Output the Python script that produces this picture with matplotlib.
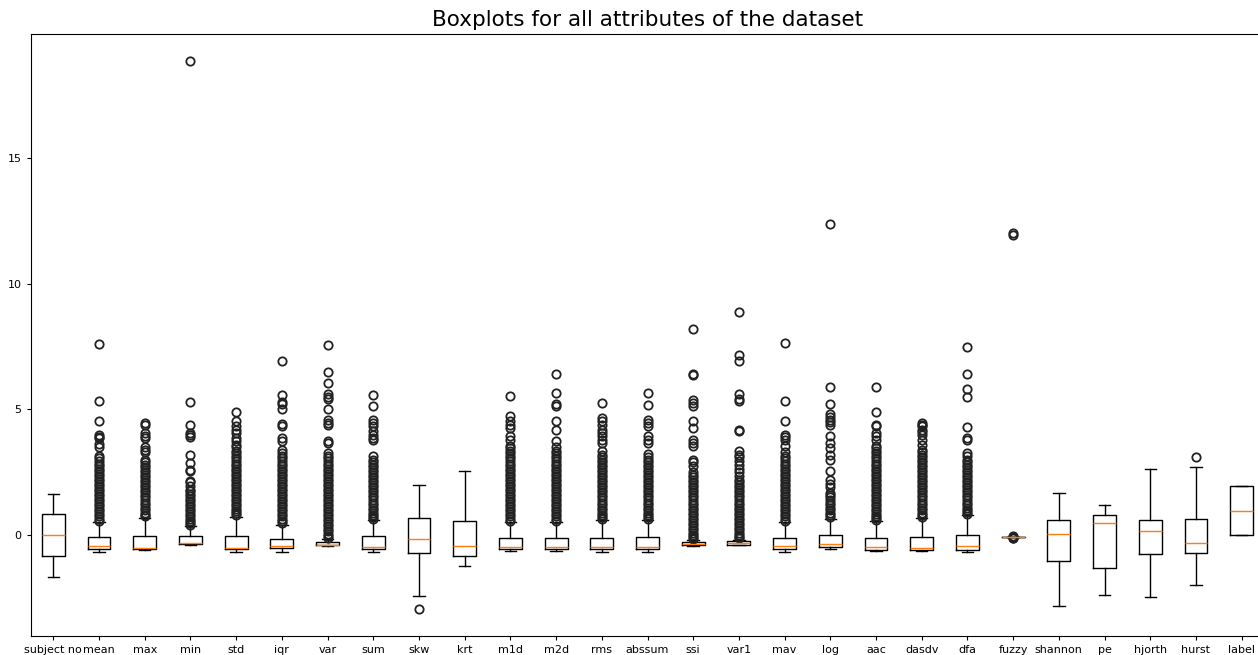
import matplotlib.pyplot as plt

# column names of the dataset
names = ['subject no', 'mean', 'max', 'min', 'std', 'iqr', 'var', 'sum', 'skw', 'krt',
         'm1d', 'm2d', 'rms', 'abssum', 'ssi', 'var1', 'mav', 'log', 'aac', 'dasdv',
         'dfa', 'fuzzy', 'shannon', 'pe', 'hjorth', 'hurst', 'label']

# box statistics
medians = [0.0, -0.42, -0.50, -0.33, -0.50, -0.42, -0.39, -0.46, -0.14, -0.41,
           -0.46, -0.46, -0.46, -0.46, -0.35, -0.31, -0.42, -0.35, -0.46, -0.50,
           -0.44, -0.08, 0.05, 0.47, 0.18, -0.31, 0.96]
q1 = [-0.84, -0.54, -0.55, -0.36, -0.55, -0.50, -0.40, -0.54, -0.71, -0.84,
      -0.54, -0.54, -0.54, -0.54, -0.40, -0.37, -0.54, -0.48, -0.59, -0.58,
      -0.58, -0.08, -1.02, -1.29, -0.75, -0.71, 0.0]
q3 = [0.83, -0.09, -0.05, -0.03, -0.05, -0.14, -0.27, -0.05, 0.70, 0.58,
      -0.10, -0.10, -0.10, -0.06, -0.26, -0.24, -0.10, -0.01, -0.10, -0.06,
      -0.01, -0.08, 0.62, 0.79, 0.62, 0.66, 1.97]
whis_lo = [-1.68, -0.66, -0.60, -0.38, -0.66, -0.66, -0.42, -0.66, -2.40, -1.24,
           -0.62, -0.62, -0.66, -0.66, -0.42, -0.39, -0.66, -0.55, -0.63, -0.63,
           -0.66, -0.08, -2.82, -2.38, -2.46, -1.98, 0.0]
whis_hi = [1.63, 0.52, 0.70, 0.36, 0.74, 0.42, -0.15, 0.60, 1.98, 2.54,
           0.52, 0.52, 0.60, 0.60, -0.21, -0.18, 0.52, 0.66, 0.56, 0.68,
           0.79, -0.08, 1.67, 1.19, 2.65, 2.73, 1.97]

# outliers (dense bands read as closely spaced points)
fl_subject = []
fl_mean = [0.58, 0.65, 0.75, 0.85, 0.95, 1.05, 1.15, 1.25, 1.35, 1.45, 1.55, 1.65, 1.75,
           1.85, 1.95, 2.05, 2.15, 2.25, 2.35, 2.45, 2.55, 2.65, 2.75, 2.85, 2.95, 3.05,
           3.15, 3.5, 3.62, 3.85, 3.92, 4.0, 4.53, 5.33, 7.62]
fl_max = [0.75, 0.82, 0.9, 1.0, 1.1, 1.2, 1.3, 1.4, 1.5, 1.6, 1.7, 1.8, 1.9, 2.0, 2.1,
          2.2, 2.3, 2.4, 2.5, 2.6, 2.7, 2.8, 2.9, 3.0, 3.3, 3.4, 3.5, 3.85, 3.94, 4.07,
          4.4, 4.47]
fl_min = [0.4, 0.48, 0.55, 0.65, 0.75, 0.85, 0.95, 1.05, 1.15, 1.25, 1.35, 1.45, 1.55,
          1.65, 1.75, 1.81, 1.94, 2.1, 2.14, 2.57, 2.61, 2.88, 3.17, 3.9, 4.0, 4.07,
          4.4, 5.29, 18.84]
fl_std = [0.8, 0.88, 0.95, 1.05, 1.15, 1.25, 1.35, 1.45, 1.55, 1.65, 1.75, 1.85, 1.95,
          2.05, 2.15, 2.25, 2.35, 2.45, 2.55, 2.65, 2.75, 2.85, 2.95, 3.05, 3.15, 3.25,
          3.34, 3.5, 3.6, 3.74, 3.87, 4.07, 4.2, 4.33, 4.53, 4.89]
fl_iqr = [0.48, 0.55, 0.65, 0.75, 0.85, 0.95, 1.05, 1.15, 1.25, 1.35, 1.45, 1.55, 1.65,
          1.75, 1.85, 1.95, 2.05, 2.15, 2.25, 2.35, 2.45, 2.55, 2.65, 2.75, 2.85, 2.95,
          3.05, 3.15, 3.25, 3.4, 3.74, 3.87, 4.36, 4.43, 5.0, 5.2, 5.29, 5.56, 6.91]
fl_var = [-0.1, -0.03, 0.05, 0.15, 0.25, 0.35, 0.45, 0.55, 0.65, 0.75, 0.85, 0.95, 1.05,
          1.15, 1.25, 1.35, 1.45, 1.55, 1.65, 1.75, 1.85, 1.95, 2.05, 2.15, 2.25, 2.35,
          2.45, 2.55, 2.65, 2.75, 2.85, 2.95, 3.05, 3.15, 3.27, 3.67, 3.74, 4.4, 4.47,
          4.6, 5.0, 5.4, 5.5, 5.6, 6.04, 6.49, 7.56]
fl_sum = [0.65, 0.72, 0.8, 0.9, 1.0, 1.1, 1.2, 1.3, 1.4, 1.5, 1.6, 1.7, 1.8, 1.9, 2.0,
          2.1, 2.2, 2.3, 2.4, 2.5, 2.6, 2.7, 2.8, 2.9, 3.0, 3.14, 3.8, 3.87, 4.0, 4.13,
          4.33, 4.47, 4.6, 5.13, 5.56]
fl_skw = [-2.92]
fl_krt = []
fl_m1d = [0.58, 0.65, 0.75, 0.85, 0.95, 1.05, 1.15, 1.25, 1.35, 1.45, 1.55, 1.65, 1.75,
          1.85, 1.95, 2.05, 2.15, 2.25, 2.35, 2.45, 2.55, 2.65, 2.75, 2.85, 2.95, 3.05,
          3.15, 3.25, 3.35, 3.45, 3.54, 3.8, 3.93, 4.27, 4.4, 4.53, 4.73, 5.53]
fl_m2d = [0.58, 0.65, 0.75, 0.85, 0.95, 1.05, 1.15, 1.25, 1.35, 1.45, 1.55, 1.65, 1.75,
          1.85, 1.95, 2.05, 2.15, 2.25, 2.35, 2.45, 2.55, 2.65, 2.75, 2.85, 2.95, 3.05,
          3.15, 3.25, 3.34, 3.5, 3.73, 4.2, 4.53, 5.13, 5.2, 5.64, 6.39]
fl_rms = [0.65, 0.72, 0.8, 0.9, 1.0, 1.1, 1.2, 1.3, 1.4, 1.5, 1.6, 1.7, 1.8, 1.9, 2.0,
          2.1, 2.2, 2.3, 2.4, 2.5, 2.6, 2.7, 2.8, 2.9, 3.0, 3.1, 3.2, 3.34, 3.67, 3.8,
          3.93, 4.07, 4.2, 4.4, 4.53, 4.67, 5.27]
fl_abssum = [0.65, 0.72, 0.8, 0.9, 1.0, 1.1, 1.2, 1.3, 1.4, 1.5, 1.6, 1.7, 1.8, 1.9,
             2.0, 2.1, 2.2, 2.3, 2.4, 2.5, 2.6, 2.7, 2.8, 2.9, 3.0, 3.1, 3.21, 3.67, 3.8,
             3.93, 4.33, 4.45, 4.6, 5.16, 5.64]
fl_ssi = [-0.15, -0.08, 0.0, 0.1, 0.2, 0.3, 0.4, 0.5, 0.6, 0.7, 0.8, 0.9, 1.0, 1.1, 1.2,
          1.3, 1.4, 1.5, 1.6, 1.7, 1.8, 1.9, 2.0, 2.1, 2.21, 2.3, 2.4, 2.5, 2.74, 2.9,
          3.0, 3.54, 3.67, 3.8, 4.27, 4.53, 5.13, 5.25, 5.36, 6.37, 6.41, 8.19]
fl_var1 = [-0.13, -0.06, 0.0, 0.1, 0.2, 0.3, 0.4, 0.5, 0.6, 0.7, 0.8, 0.9, 1.0, 1.1, 1.2,
           1.3, 1.4, 1.5, 1.6, 1.7, 1.8, 1.9, 2.0, 2.1, 2.2, 2.35, 2.5, 2.65, 2.8, 2.95,
           3.1, 3.2, 3.34, 4.15, 4.18, 5.33, 5.4, 5.6, 6.93, 7.15, 8.89]
fl_mav = [0.58, 0.65, 0.75, 0.85, 0.95, 1.05, 1.15, 1.25, 1.35, 1.45, 1.55, 1.65, 1.75,
          1.85, 1.95, 2.05, 2.15, 2.25, 2.35, 2.45, 2.55, 2.65, 2.75, 2.85, 2.95, 3.05,
          3.14, 3.3, 3.54, 3.8, 3.9, 4.0, 4.53, 5.33, 7.63]
fl_log = [0.72, 0.8, 0.9, 1.0, 1.1, 1.2, 1.3, 1.4, 1.5, 1.6, 1.69, 1.9, 2.05, 2.2, 2.54,
          3.0, 3.2, 3.45, 3.68, 3.94, 4.4, 4.5, 4.6, 4.68, 4.8, 5.2, 5.9, 12.37]
fl_aac = [0.6, 0.68, 0.75, 0.85, 0.95, 1.05, 1.15, 1.25, 1.35, 1.45, 1.55, 1.65, 1.75,
          1.85, 1.95, 2.05, 2.15, 2.25, 2.35, 2.45, 2.55, 2.65, 2.75, 2.85, 2.95, 3.05,
          3.15, 3.25, 3.35, 3.45, 3.54, 3.8, 3.93, 4.07, 4.33, 4.4, 4.89, 5.9]
fl_dasdv = [0.72, 0.8, 0.9, 1.0, 1.1, 1.2, 1.3, 1.4, 1.5, 1.6, 1.7, 1.8, 1.9, 2.0, 2.1,
            2.2, 2.3, 2.4, 2.5, 2.6, 2.7, 2.8, 2.9, 3.0, 3.1, 3.2, 3.3, 3.4, 3.6, 3.8,
            4.0, 4.1, 4.2, 4.33, 4.4, 4.45]
fl_dfa = [0.85, 0.92, 1.0, 1.1, 1.2, 1.3, 1.4, 1.5, 1.6, 1.7, 1.8, 1.9, 2.0, 2.1, 2.2,
          2.3, 2.4, 2.5, 2.6, 2.7, 2.8, 2.9, 3.0, 3.14, 3.27, 3.8, 3.87, 4.31, 5.5, 5.8,
          6.39, 7.5]
fl_fuzzy = [-0.04, -0.06, -0.1, -0.12, 11.95, 12.0]
fl_shannon = []
fl_pe = []
fl_hjorth = []
fl_hurst = [3.09]
fl_label = []

fliers = [fl_subject, fl_mean, fl_max, fl_min, fl_std, fl_iqr, fl_var, fl_sum, fl_skw,
          fl_krt, fl_m1d, fl_m2d, fl_rms, fl_abssum, fl_ssi, fl_var1, fl_mav, fl_log,
          fl_aac, fl_dasdv, fl_dfa, fl_fuzzy, fl_shannon, fl_pe, fl_hjorth, fl_hurst,
          fl_label]

stats = []
for i, name in enumerate(names):
    stats.append({'label': name, 'med': medians[i], 'q1': q1[i], 'q3': q3[i],
                  'whislo': whis_lo[i], 'whishi': whis_hi[i], 'fliers': fliers[i]})

fig = plt.figure(figsize=(12.58, 6.55), dpi=100)
ax = fig.add_axes([30.5 / 1258, 19 / 655, 1234 / 1258, 602 / 655])

lw = 1.0
ax.bxp(stats,
       boxprops=dict(color='black', linewidth=lw),
       whiskerprops=dict(color='black', linewidth=lw),
       capprops=dict(color='black', linewidth=lw),
       medianprops=dict(color='#ff7f0e', linewidth=lw, zorder=3),
       flierprops=dict(marker='o', markerfacecolor='none', markeredgecolor='#222222',
                       markersize=6, markeredgewidth=1.3))

ax.set_title('Boxplots for all attributes of the dataset', fontsize=15.5)
ax.tick_params(labelsize=8, length=3)

fig.savefig('out.png', dpi=100)
